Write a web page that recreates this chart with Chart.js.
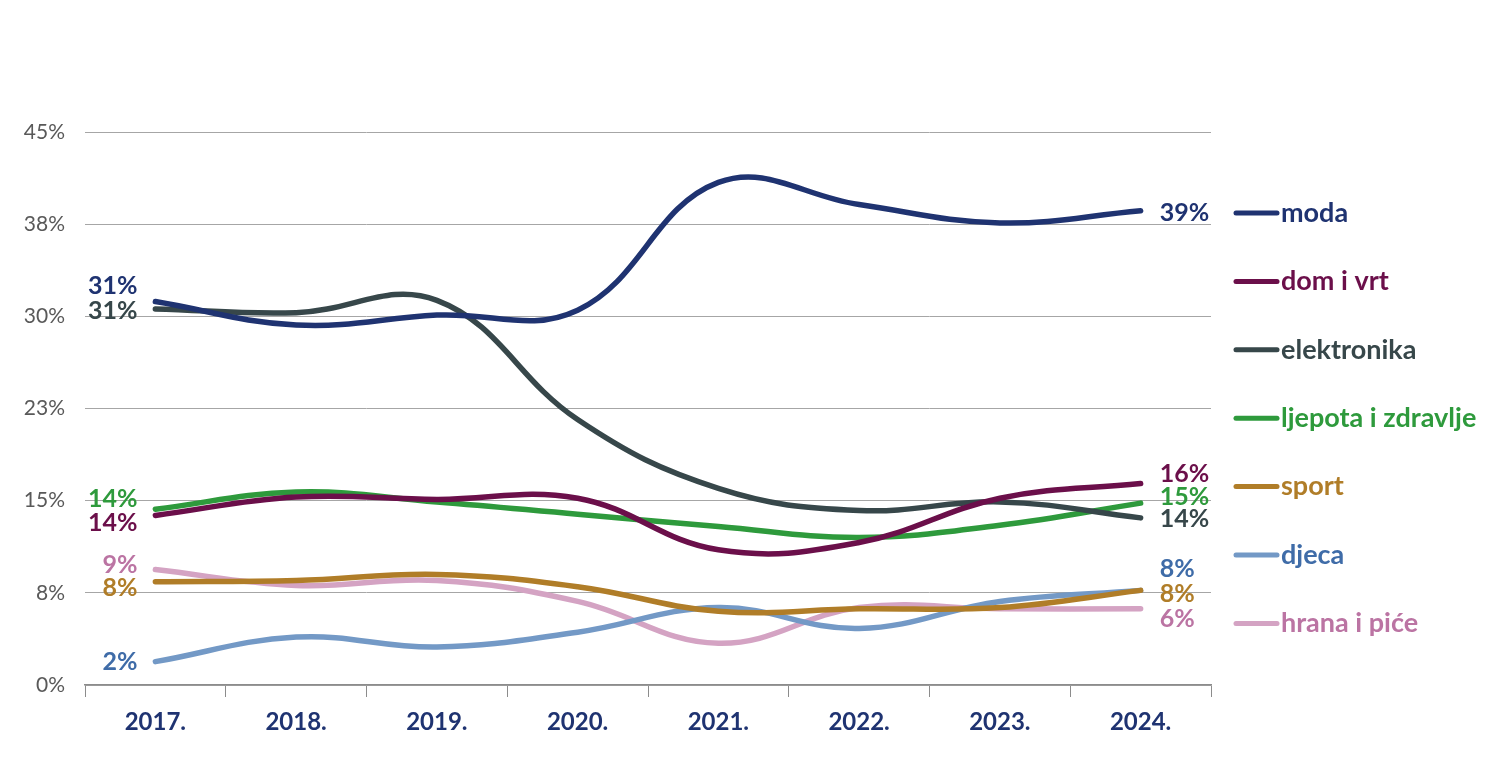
<!DOCTYPE html>
<html>
<head>
<meta charset="utf-8">
<script src="https://cdn.jsdelivr.net/npm/chart.js@4/dist/chart.umd.min.js"></script>
<style>
    html, body { margin: 0; padding: 0; background: #fff; }
    #wrap { width: 1509px; height: 758px; position: relative; }
</style>
</head>
<body>
<div id="wrap"><canvas id="trendChart"></canvas></div>
<script>
// Chart data
const years = ['2017.', '2018.', '2019.', '2020.', '2021.', '2022.', '2023.', '2024.'];
const yTickLabels = ['0%', '8%', '15%', '23%', '30%', '38%', '45%'];

const moda        = [31.2, 29.3, 30.1, 30.5, 40.9, 39.1, 37.6, 38.6];
const domIVrt     = [13.8, 15.3, 15.1, 15.2, 11.0, 11.6, 15.2, 16.4];
const elektronika = [30.6, 30.3, 31.3, 21.6, 16.0, 14.2, 14.9, 13.6];
const ljepota     = [14.3, 15.7, 14.9, 13.9, 12.9, 12.0, 13.0, 14.8];
const sport       = [8.4, 8.5, 9.0, 8.0, 6.0, 6.2, 6.3, 7.7];
const djeca       = [1.9, 3.9, 3.1, 4.3, 6.3, 4.6, 6.8, 7.7];
const hranaIPice  = [9.4, 8.1, 8.5, 6.8, 3.4, 6.3, 6.2, 6.2];

// series styling: line colour, label colour, label nudges (first / last point)
const seriesList = [
    { name: 'moda', data: moda, color: '#1f3371', text: '#1f3371', dyFirst: -16, dyLast: 2 },
    { name: 'dom i vrt', data: domIVrt, color: '#6b0f4a', text: '#6b0f4a', dyFirst: 8, dyLast: -10 },
    { name: 'elektronika', data: elektronika, color: '#37474a', text: '#37474a', dyFirst: 2, dyLast: 1 },
    { name: 'ljepota i zdravlje', data: ljepota, color: '#2e9a3c', text: '#2e9a3c', dyFirst: -10, dyLast: -6 },
    { name: 'sport', data: sport, color: '#b07d28', text: '#b07d28', dyFirst: 6, dyLast: 4 },
    { name: 'djeca', data: djeca, color: '#7399c6', text: '#3f6ca8', dyFirst: 0, dyLast: -21 },
    { name: 'hrana i piće', data: hranaIPice, color: '#d4a3c3', text: '#bb74a3', dyFirst: -5, dyLast: 10 }
];

const FONT = 'Lato, "Open Sans", sans-serif';

// Draw first/last value labels and the right-hand legend
const labelsPlugin = {
    id: 'endLabels',
    afterDatasetsDraw(chart) {
        const ctx = chart.ctx;
        ctx.save();
        ctx.font = 'bold 25px ' + FONT;
        ctx.textBaseline = 'middle';
        chart.data.datasets.forEach((ds, i) => {
            const meta = chart.getDatasetMeta(i);
            const s = seriesList[i];
            const first = meta.data[0];
            const last = meta.data[meta.data.length - 1];
            ctx.fillStyle = s.text;
            ctx.textAlign = 'right';
            ctx.fillText(Math.round(ds.data[0]) + '%', first.x - 18, first.y + s.dyFirst);
            ctx.textAlign = 'left';
            ctx.fillText(Math.round(ds.data[ds.data.length - 1]) + '%', last.x + 19, last.y + s.dyLast);
        });

        // legend
        ctx.font = 'bold 27px ' + FONT;
        const lx = chart.chartArea.right + 23;
        let ly = 213;
        seriesList.forEach(s => {
            ctx.strokeStyle = s.color;
            ctx.lineWidth = 5;
            ctx.lineCap = 'round';
            ctx.beginPath();
            ctx.moveTo(lx + 2, ly);
            ctx.lineTo(lx + 43, ly);
            ctx.stroke();
            ctx.fillStyle = s.text;
            ctx.textAlign = 'left';
            ctx.fillText(s.name, lx + 47, ly);
            ly += 68.4;
        });
        ctx.restore();
    }
};

const ctx = document.getElementById('trendChart');
new Chart(ctx, {
    type: 'line',
    data: {
        labels: years,
        datasets: seriesList.map(s => ({
            label: s.name,
            data: s.data,
            borderColor: s.color,
            backgroundColor: s.color,
            borderWidth: 5.5,
            tension: 0.4,
            pointRadius: 0,
            borderCapStyle: 'round',
            fill: false
        }))
    },
    options: {
        responsive: true,
        maintainAspectRatio: false,
        animation: false,
        layout: {
            padding: { left: 0, right: 298, top: 132, bottom: 0 }
        },
        scales: {
            x: {
                offset: true,
                grid: {
                    offset: true,
                    drawOnChartArea: false,
                    drawTicks: true,
                    tickLength: 12,
                    color: '#8c8c8c'
                },
                border: { color: '#8c8c8c', width: 1.5 },
                ticks: {
                    color: '#1f3371',
                    font: { family: FONT, size: 24, weight: 'bold' },
                    padding: 11
                },
                afterFit(scale) { scale.height = 73; }
            },
            y: {
                min: 0,
                max: 45,
                grid: {
                    color: '#a6a6a6',
                    lineWidth: 1,
                    drawTicks: false
                },
                border: { display: false },
                ticks: {
                    stepSize: 7.5,
                    color: '#595959',
                    font: { family: FONT, size: 21 },
                    padding: 20,
                    callback: (v, idx) => yTickLabels[idx]
                },
                afterFit(scale) { scale.width = 85; }
            }
        },
        plugins: {
            legend: { display: false },
            tooltip: { enabled: false }
        }
    },
    plugins: [labelsPlugin]
});
</script>
</body>
</html>
